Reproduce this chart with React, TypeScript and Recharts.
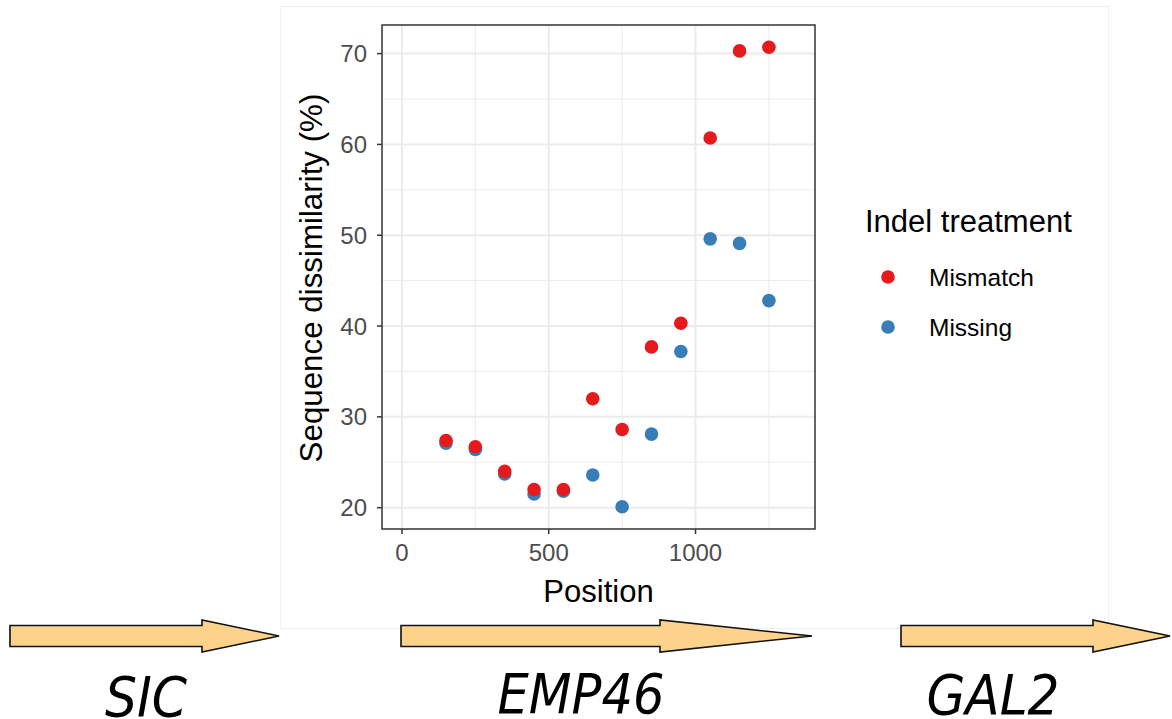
import { ScatterChart, Scatter, XAxis, YAxis, CartesianGrid, ReferenceArea } from "recharts";

// window positions along the EMP46 locus
const positions = [150, 250, 350, 450, 550, 650, 750, 850, 950, 1050, 1150, 1250];
// dissimilarity (%) per window, by indel treatment
const mismatch = [27.4, 26.7, 24.0, 22.0, 22.0, 32.0, 28.6, 37.7, 40.3, 60.7, 70.3, 70.7];
const missing = [27.1, 26.4, 23.7, 21.5, 21.8, 23.6, 20.1, 28.1, 37.2, 49.6, 49.1, 42.8];

const xTicks = [0, 500, 1000];
const xMinor = [250, 750, 1250];
const yTicks = [20, 30, 40, 50, 60, 70];
const yMinor = [25, 35, 45, 55, 65];

const seriesNames = ["Mismatch", "Missing"];
const seriesColors = ["#E41A1C", "#377EB8"];
const genes = ["SIC", "EMP46", "GAL2"];

const X_DOMAIN: [number, number] = [-68, 1407];
const Y_DOMAIN: [number, number] = [17.65, 73.15];

const font = "'Liberation Sans', Arial, Helvetica, sans-serif";

const mismatchData = positions.map((p, i) => ({ pos: p, value: mismatch[i] }));
const missingData = positions.map((p, i) => ({ pos: p, value: missing[i] }));

const dot = (color: string) => (props: any) =>
  <circle cx={props.cx} cy={props.cy} r={6.8} fill={color} />;

// gene arrow: body from x0 to head start xh, tip at x1
function GeneArrow({ x0, xh, x1 }: { x0: number; xh: number; x1: number }) {
  const cy = 636;
  const body = 10.5;
  const head = 16;
  const pts = [
    [x0, cy - body], [xh, cy - body], [xh, cy - head], [x1, cy],
    [xh, cy + head], [xh, cy + body], [x0, cy + body],
  ].map((p) => p.join(",")).join(" ");
  return <polygon points={pts} fill="#FDD28B" stroke="#111" strokeWidth={1.6} strokeLinejoin="miter" />;
}

export default function App() {
  return (
    <div style={{ position: "absolute", left: 0, top: 0, width: 1172, height: 719, background: "#fff", overflow: "hidden" }}>
      <div style={{ position: "absolute", left: 280, top: 6, width: 827, height: 621, border: "1px solid #f0f0f0", background: "#fff" }} />
      <div style={{ position: "absolute", left: 0, top: 0 }}>
        <ScatterChart width={1172} height={719} margin={{ top: 25, right: 357, bottom: 150, left: 322 }}>
          <CartesianGrid horizontalValues={yMinor} verticalValues={xMinor} stroke="#ebebeb" strokeWidth={1} />
          <CartesianGrid horizontalValues={yTicks} verticalValues={xTicks} stroke="#ebebeb" strokeWidth={2} />
          <XAxis
            dataKey="pos"
            type="number"
            domain={X_DOMAIN}
            ticks={xTicks}
            allowDataOverflow
            height={40}
            axisLine={false}
            tickSize={5}
            tickMargin={10}
            tickLine={{ stroke: "#333", strokeWidth: 1.5 }}
            tick={{ fill: "#4d4d4d", fontSize: 24, fontFamily: font }}
          />
          <YAxis
            dataKey="value"
            type="number"
            domain={Y_DOMAIN}
            ticks={yTicks}
            allowDataOverflow
            width={60}
            axisLine={false}
            tickSize={5}
            tickMargin={10}
            tickLine={{ stroke: "#333", strokeWidth: 1.5 }}
            tick={{ fill: "#4d4d4d", fontSize: 24, fontFamily: font }}
          />
          <Scatter name={seriesNames[1]} data={missingData} shape={dot(seriesColors[1])} isAnimationActive={false} />
          <Scatter name={seriesNames[0]} data={mismatchData} shape={dot(seriesColors[0])} isAnimationActive={false} />
          <ReferenceArea
            x1={X_DOMAIN[0]}
            x2={X_DOMAIN[1]}
            y1={Y_DOMAIN[0]}
            y2={Y_DOMAIN[1]}
            fill="none"
            fillOpacity={0}
            stroke="#333"
            strokeWidth={1.5}
            ifOverflow="visible"
          />
        </ScatterChart>
      </div>
      <svg width={1172} height={719} style={{ position: "absolute", left: 0, top: 0, pointerEvents: "none" }}>
        {/* axis titles */}
        <text x={598.5} y={602} textAnchor="middle" fontSize={31} fontFamily={font} fill="#000">Position</text>
        <text x={322} y={278} transform="rotate(-90 322 278)" textAnchor="middle" fontSize={31.3} fontFamily={font} fill="#000">
          Sequence dissimilarity (%)
        </text>

        {/* legend */}
        <text x={865} y={232} fontSize={31} fontFamily={font} fill="#000">Indel treatment</text>
        {seriesNames.map((name, i) => (
          <g key={name}>
            <circle cx={888} cy={277 + i * 50} r={6.8} fill={seriesColors[i]} />
            <text x={929} y={285.6 + i * 50} fontSize={24.5} fontFamily={font} fill="#000">{name}</text>
          </g>
        ))}

        {/* gene track */}
        <GeneArrow x0={10} xh={202} x1={279} />
        <GeneArrow x0={401} xh={660} x1={812} />
        <GeneArrow x0={901} xh={1093} x1={1170} />
        {genes.map((g, i) => (
          <text
            key={g}
            x={[146, 581, 993][i]}
            y={[716, 713, 714][i]}
            textAnchor="middle"
            fontSize={56}
            fontStyle="italic"
            fontFamily="'DejaVu Sans Condensed', 'DejaVu Sans', sans-serif"
            fill="#000"
            textLength={[82, 167, 133][i]}
            lengthAdjust="spacingAndGlyphs"
          >
            {g}
          </text>
        ))}
      </svg>
    </div>
  );
}
